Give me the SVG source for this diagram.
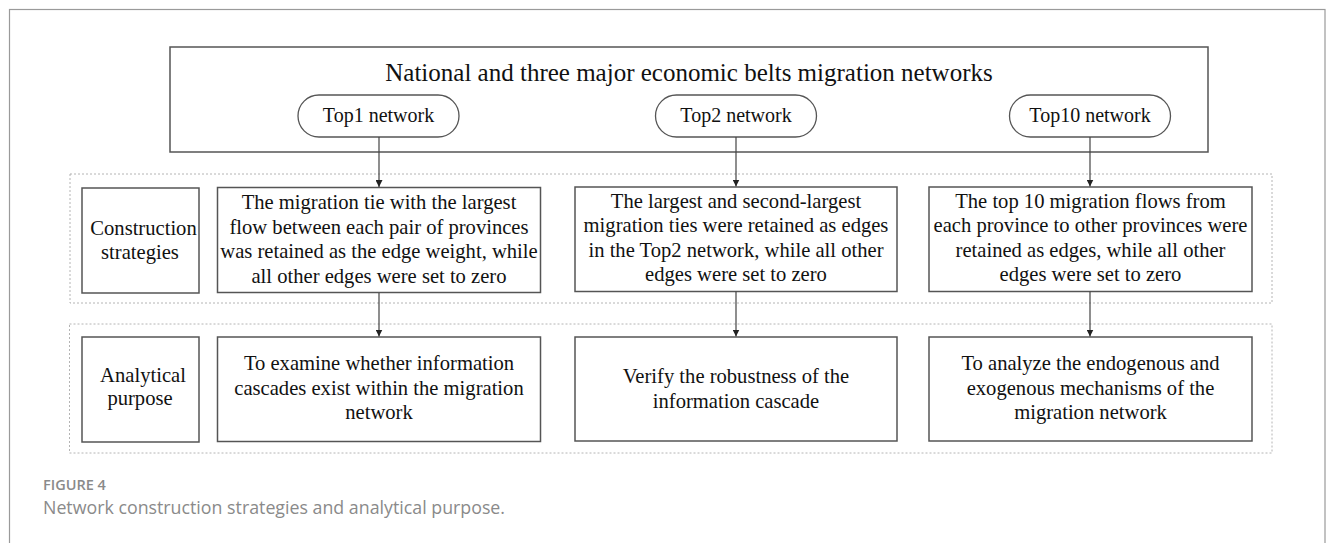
<svg xmlns="http://www.w3.org/2000/svg" width="1333" height="543" viewBox="0 0 1333 543">
  <style>
    .frame { fill: none; stroke: #9a9a9a; stroke-width: 1.2; }
    .box { fill: #ffffff; stroke: #555555; stroke-width: 1.5; }
    .pill { fill: #ffffff; stroke: #555555; stroke-width: 1.3; }
    .group { fill: none; stroke: #b4b4b4; stroke-width: 1; stroke-dasharray: 2 2; }
    .t { font-family: "Liberation Serif", "Times New Roman", serif; font-size: 20.6px; fill: #111111; text-anchor: middle; }
    .title { font-size: 25px; }
    .pt { font-size: 20px; }
    .edge { stroke: #444444; stroke-width: 1.2; fill: none; marker-end: url(#arrow); }
    .caphead { font-family: "Open Sans", "Noto Sans", sans-serif; font-size: 14.5px; font-weight: 600; fill: #8a8a8a; }
    .cap { font-family: "Open Sans", "Noto Sans", sans-serif; font-size: 17.8px; fill: #8a8a8a; }
  </style>
  <defs>
    <marker id="arrow" viewBox="0 0 10 10" refX="10" refY="5" markerWidth="7" markerHeight="7" markerUnits="userSpaceOnUse" orient="auto">
      <path d="M0,0 L10,5 L0,10 Z" fill="#222222"/>
    </marker>
  </defs>

  <rect width="1333" height="543" fill="#ffffff"/>
  <!-- figure frame, open at the bottom edge -->
  <rect class="frame" x="9.5" y="9.5" width="1315.5" height="560"/>

  <!-- dashed bands grouping each row -->
  <rect class="group" x="70" y="174" width="1202" height="129"/>
  <rect class="group" x="69.5" y="324" width="1202.5" height="129"/>

  <!-- header box with the three network variants -->
  <g id="header">
    <rect class="box" x="170" y="47" width="1038" height="105"/>
    <text class="t title" x="689" y="80.5">National and three major economic belts migration networks</text>
  </g>
  <g id="top1">
    <rect class="pill" x="298" y="95" width="161" height="42" rx="21" ry="21"/>
    <text class="t pt" x="378.5" y="122">Top1 network</text>
  </g>
  <g id="top2">
    <rect class="pill" x="655.5" y="95" width="161" height="42" rx="21" ry="21"/>
    <text class="t pt" x="736" y="122">Top2 network</text>
  </g>
  <g id="top10">
    <rect class="pill" x="1009.5" y="95" width="161" height="42" rx="21" ry="21"/>
    <text class="t pt" x="1090" y="122">Top10 network</text>
  </g>

  <!-- row 1: construction strategies -->
  <g id="construction-label">
    <rect class="box" x="82" y="188" width="117" height="105"/>
    <text class="t" x="143.5" y="235">Construction</text>
    <text class="t" x="140" y="258.5">strategies</text>
  </g>
  <g id="construction-top1">
    <rect class="box" x="217.5" y="187.5" width="323" height="105"/>
    <text class="t" x="379" y="209">The migration tie with the largest</text>
    <text class="t" x="379" y="233.5">flow between each pair of provinces</text>
    <text class="t" x="379" y="258">was retained as the edge weight, while</text>
    <text class="t" x="379" y="282.5">all other edges were set to zero</text>
  </g>
  <g id="construction-top2">
    <rect class="box" x="575" y="187" width="322" height="104.5"/>
    <text class="t" x="736" y="207.5">The largest and second-largest</text>
    <text class="t" x="736" y="232">migration ties were retained as edges</text>
    <text class="t" x="736" y="256.5">in the Top2 network, while all other</text>
    <text class="t" x="736" y="281">edges were set to zero</text>
  </g>
  <g id="construction-top10">
    <rect class="box" x="929" y="187" width="323" height="104.5"/>
    <text class="t" x="1090.5" y="207.5">The top 10 migration flows from</text>
    <text class="t" x="1090.5" y="232">each province to other provinces were</text>
    <text class="t" x="1090.5" y="256.5">retained as edges, while all other</text>
    <text class="t" x="1090.5" y="281">edges were set to zero</text>
  </g>

  <!-- row 2: analytical purpose -->
  <g id="purpose-label">
    <rect class="box" x="82" y="337" width="117" height="105"/>
    <text class="t" x="143" y="382">Analytical</text>
    <text class="t" x="140" y="405">purpose</text>
  </g>
  <g id="purpose-top1">
    <rect class="box" x="217.5" y="337" width="323" height="104.5"/>
    <text class="t" x="379" y="370">To examine whether information</text>
    <text class="t" x="379" y="394.5">cascades exist within the migration</text>
    <text class="t" x="379" y="419">network</text>
  </g>
  <g id="purpose-top2">
    <rect class="box" x="575" y="337" width="322" height="104"/>
    <text class="t" x="736" y="383">Verify the robustness of the</text>
    <text class="t" x="736" y="407.5">information cascade</text>
  </g>
  <g id="purpose-top10">
    <rect class="box" x="929" y="337" width="323" height="104"/>
    <text class="t" x="1090.5" y="370">To analyze the endogenous and</text>
    <text class="t" x="1090.5" y="394.5">exogenous mechanisms of the</text>
    <text class="t" x="1090.5" y="419">migration network</text>
  </g>

  <!-- connectors -->
  <g id="connectors">
    <line class="edge" x1="379" y1="137" x2="379" y2="187"/>
    <line class="edge" x1="736" y1="137" x2="736" y2="186.5"/>
    <line class="edge" x1="1090" y1="137" x2="1090" y2="186.5"/>
    <line class="edge" x1="379" y1="293" x2="379" y2="336.5"/>
    <line class="edge" x1="736" y1="291.5" x2="736" y2="336.5"/>
    <line class="edge" x1="1090" y1="291.5" x2="1090" y2="336.5"/>
  </g>

  <!-- caption -->
  <text class="caphead" x="43" y="490">FIGURE 4</text>
  <text class="cap" x="43" y="514">Network construction strategies and analytical purpose.</text>
</svg>
